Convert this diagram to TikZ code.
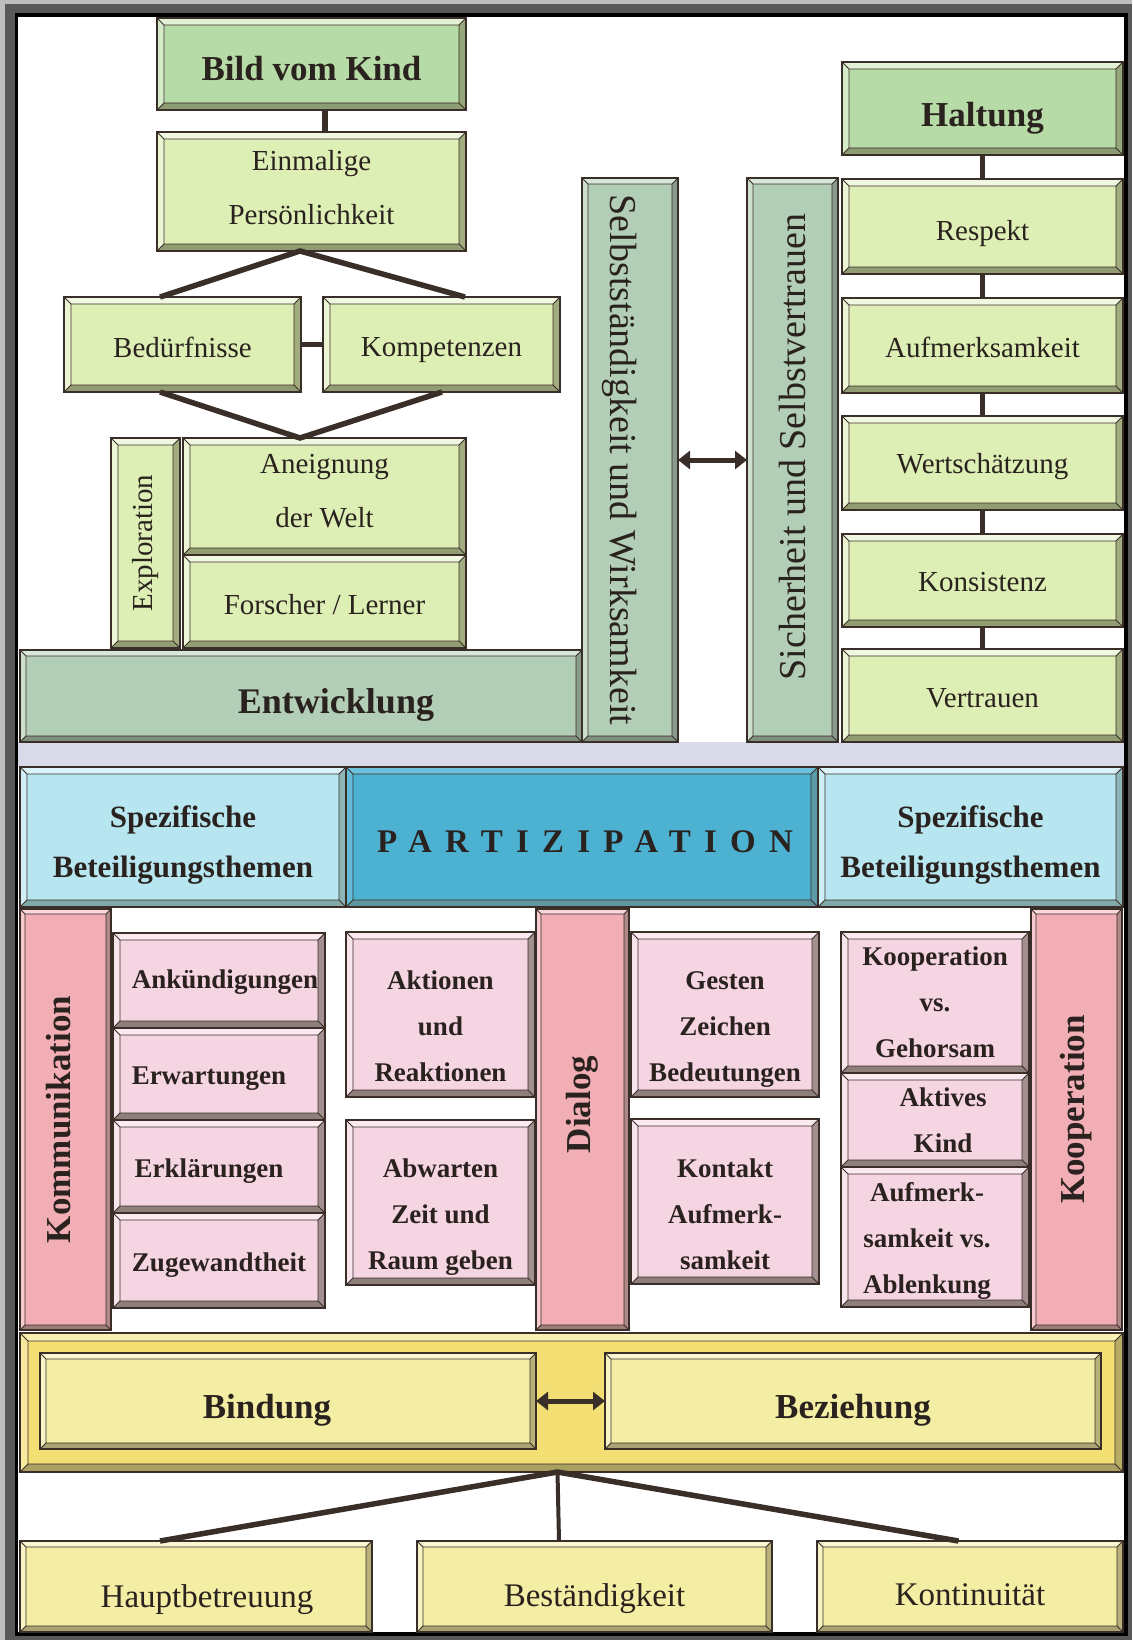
\documentclass[tikz,border=0pt]{standalone}
\usepackage{fontspec}
\setmainfont{Liberation Serif}
\usetikzlibrary{arrows.meta}
\definecolor{outl}{HTML}{3A2E28}
\definecolor{txt}{HTML}{2A221E}
\definecolor{fra}{HTML}{BDBDBD}
\definecolor{frb}{HTML}{595959}
\definecolor{lav}{HTML}{D8DAEA}
\definecolor{gL}{HTML}{DDEFB4}\definecolor{gLl}{HTML}{F1F8E2}\definecolor{gLd}{HTML}{929C72}
\definecolor{gM}{HTML}{B7DBA6}\definecolor{gMl}{HTML}{E2F1D6}\definecolor{gMd}{HTML}{8B9B72}
\definecolor{gG}{HTML}{B3CEB6}\definecolor{gGl}{HTML}{D9E7DA}\definecolor{gGd}{HTML}{7F8F80}
\definecolor{cL}{HTML}{B7E6F0}\definecolor{cLl}{HTML}{D9F3F8}\definecolor{cLd}{HTML}{80A9A8}
\definecolor{cD}{HTML}{4DB2D1}\definecolor{cDl}{HTML}{6CC0DA}\definecolor{cDd}{HTML}{5E97A0}
\definecolor{pC}{HTML}{F2AEB5}\definecolor{pCl}{HTML}{F8D6D9}\definecolor{pCd}{HTML}{9E7E7C}
\definecolor{pB}{HTML}{F5D5E2}\definecolor{pBl}{HTML}{FBEBF1}\definecolor{pBd}{HTML}{8E7E7C}
\definecolor{yB}{HTML}{F3DF74}\definecolor{yBl}{HTML}{F9EFB0}\definecolor{yBd}{HTML}{A9A062}
\definecolor{yL}{HTML}{F4EDA4}\definecolor{yLl}{HTML}{FAF6D2}\definecolor{yLd}{HTML}{A9A272}
\newcommand\fHd{\fontsize{35}{40}\selectfont\bfseries}
\newcommand\fEn{\fontsize{36}{40}\selectfont\bfseries}
\newcommand\fRg{\fontsize{29}{54}\selectfont}
\newcommand\fCol{\fontsize{38}{40}\selectfont}
\newcommand\fSp{\fontsize{31}{50}\selectfont\bfseries}
\newcommand\fPa{\fontsize{33}{40}\selectfont\bfseries\addfontfeature{LetterSpace=40}}
\newcommand\fPk{\fontsize{27}{46}\selectfont\bfseries}
\newcommand\fPc{\fontsize{35}{40}\selectfont\bfseries}
\newcommand\fBo{\fontsize{33}{40}\selectfont}
\tikzset{
  bev/.style n args={4}{rectangle, fill=#1, draw=outl, line width=1.2pt, inner sep=0pt, outer sep=0pt,
    path picture={
      \path (path picture bounding box.north west) coordinate (bNW)
            (path picture bounding box.north east) coordinate (bNE)
            (path picture bounding box.south west) coordinate (bSW)
            (path picture bounding box.south east) coordinate (bSE);
      \path ([shift={(#4,-#4)}]bNW) coordinate (iNW)
            ([shift={(-#4,-#4)}]bNE) coordinate (iNE)
            ([shift={(#4,#4)}]bSW) coordinate (iSW)
            ([shift={(-#4,#4)}]bSE) coordinate (iSE);
      \fill[#2] (bNW) -- (bNE) -- (iNE) -- (iNW) -- cycle;
      \fill[#2!70!#1] (bNW) -- (iNW) -- (iSW) -- (bSW) -- cycle;
      \fill[#3!80!#1] (bNE) -- (bSE) -- (iSE) -- (iNE) -- cycle;
      \fill[#3] (bSW) -- (iSW) -- (iSE) -- (bSE) -- cycle;
      \draw[outl, line width=0.9pt] (iNW) rectangle (iSE) (bNW) -- (iNW) (bNE) -- (iNE) (bSW) -- (iSW) (bSE) -- (iSE);
    }},
  gLbox/.style={bev={gL}{gLl}{gLd}{7pt}},
  gMbox/.style={bev={gM}{gMl}{gMd}{7pt}},
  gGbox/.style={bev={gG}{gGl}{gGd}{6pt}},
  cLbox/.style={bev={cL}{cLl}{cLd}{7pt}},
  cDbox/.style={bev={cD}{cDl}{cDd}{7pt}},
  pCbox/.style={bev={pC}{pCl}{pCd}{5pt}},
  pBbox/.style={bev={pB}{pBl}{pBd}{7pt}},
  yBbox/.style={bev={yB}{yBl}{yBd}{8pt}},
  yLbox/.style={bev={yL}{yLl}{yLd}{6pt}},
  lbl/.style={text=txt, align=center, inner sep=0pt},
  conn/.style={draw=outl, line width=5.5pt, line join=miter},
  connthin/.style={draw=outl, line width=4pt},
  dbl/.style={draw=outl, line width=5pt, {Triangle[length=12pt,width=18pt]}-{Triangle[length=12pt,width=18pt]}},
}
\newcommand\mybox[6]{%
  \pgfmathsetmacro\bxw{#5-#3}\pgfmathsetmacro\bxh{#6-#4}%
  \node[#2, minimum width=\bxw pt, minimum height=\bxh pt] (#1) at ({(#3+#5)/2},{(#4+#6)/2}) {};}
\begin{document}
\begin{tikzpicture}[x=1pt,y=-1pt]
\useasboundingbox (0,0) rectangle (1132,1640);
\fill[fra] (0,0) rectangle (1132,1640);
\fill[frb] (5,4) rectangle (1132,1640);
\fill[black] (15,13) rectangle (1128,1636);
\fill[white] (18,17) rectangle (1124,1632);
\fill[lav] (18,742) rectangle (1124,767);
% ---- upper left
\mybox{bild}{gMbox}{157}{18}{466}{110}
\mybox{einm}{gLbox}{157}{132}{466}{251}
\mybox{bedu}{gLbox}{64}{297}{301}{392}
\mybox{komp}{gLbox}{323}{297}{560}{392}
\mybox{expl}{gLbox}{111}{438}{180}{648}
\mybox{aneig}{gLbox}{183}{438}{466}{555}
\mybox{forsch}{gLbox}{183}{555}{466}{648}
\mybox{entw}{gGbox}{20}{650}{582}{742}
\mybox{selb}{gGbox}{582}{178}{678}{742}
\mybox{sich}{gGbox}{747}{178}{838}{742}
% ---- upper right
\mybox{halt}{gMbox}{842}{62}{1123}{155}
\mybox{resp}{gLbox}{842}{179}{1123}{274}
\mybox{aufm}{gLbox}{842}{298}{1123}{393}
\mybox{wert}{gLbox}{842}{416}{1123}{510}
\mybox{kons}{gLbox}{842}{534}{1123}{627}
\mybox{vert}{gLbox}{842}{649}{1123}{742}
% ---- Partizipation
\mybox{spezL}{cLbox}{20}{767}{346}{907}
\mybox{part}{cDbox}{346}{767}{818}{907}
\mybox{spezR}{cLbox}{818}{767}{1123}{907}
% ---- pink
\mybox{kommC}{pCbox}{20}{909}{111}{1330}
\mybox{dialC}{pCbox}{536}{909}{629}{1330}
\mybox{koopC}{pCbox}{1031}{909}{1122}{1330}
\mybox{ank}{pBbox}{113}{933}{325}{1028}
\mybox{erw}{pBbox}{113}{1028}{325}{1120}
\mybox{erkl}{pBbox}{113}{1120}{325}{1213}
\mybox{zug}{pBbox}{113}{1213}{325}{1308}
\mybox{akt}{pBbox}{346}{932}{535}{1097}
\mybox{abw}{pBbox}{346}{1120}{535}{1285}
\mybox{gest}{pBbox}{631}{932}{819}{1097}
\mybox{kont}{pBbox}{631}{1119}{819}{1284}
\mybox{koopvs}{pBbox}{841}{932}{1029}{1073}
\mybox{aktiv}{pBbox}{841}{1073}{1029}{1167}
\mybox{aufmvs}{pBbox}{841}{1167}{1029}{1307}
% ---- yellow
\mybox{band}{yBbox}{20}{1333}{1123}{1472}
\mybox{bind}{yLbox}{40}{1353}{536}{1449}
\mybox{bez}{yLbox}{605}{1353}{1101}{1449}
\mybox{haupt}{yLbox}{20}{1541}{372}{1632}
\mybox{best}{yLbox}{417}{1541}{772}{1632}
\mybox{kont2}{yLbox}{817}{1541}{1123}{1632}
% ---- connectors
\draw[conn] ([xshift=13.5pt]bild.south) -- ([xshift=13.5pt]einm.north);
\draw[conn] ([xshift=-22.5pt]bedu.north) -- ([xshift=-11.5pt]einm.south) -- ([xshift=23.5pt]komp.north);
\draw[conn] (bedu.east) -- (komp.west);
\draw[conn] ([xshift=-22.5pt]bedu.south) -- ([xshift=-24.5pt]aneig.north) -- ([xshift=0.5pt]komp.south);
\draw[conn] (halt.south) -- (resp.north);
\draw[conn] (resp.south) -- (aufm.north);
\draw[conn] (aufm.south) -- (wert.north);
\draw[conn] (wert.south) -- (kons.north);
\draw[conn] (kons.south) -- (vert.north);
\draw[dbl] (selb.east) -- (sich.west);
\draw[dbl] (bind.east) -- (bez.west);
\draw[conn] ([xshift=-36pt]haupt.north) -- ([xshift=-14pt]band.south) -- ([xshift=-11.5pt]kont2.north);
\draw[connthin] ([xshift=-14pt]band.south) -- ([xshift=-35.5pt]best.north);
% ---- texts
\node[lbl, font=\fHd] (bildT) at ([yshift=-5pt]bild) {Bild vom Kind};
\node[lbl, font=\fRg] (einmT) at ([yshift=4pt]einm) {Einmalige\\Persönlichkeit};
\node[lbl, font=\fRg] (beduT) at ([yshift=-3pt]bedu) {Bedürfnisse};
\node[lbl, font=\fRg] (kompT) at ([yshift=-6pt]komp) {Kompetenzen};
\node[lbl, font=\fRg, rotate=90] (explT) at (expl) {Exploration};
\node[lbl, font=\fRg] (aneigT) at ([yshift=5pt]aneig) {Aneignung\\der Welt};
\node[lbl, font=\fRg] (forschT) at ([yshift=-3pt]forsch) {Forscher / Lerner};
\node[lbl, font=\fEn] (entwT) at ([xshift=35pt,yshift=-9pt]entw) {Entwicklung};
\node[lbl, font=\fCol, rotate=-90] (selbT) at ([xshift=-10pt]selb) {Selbstständigkeit und Wirksamkeit};
\node[lbl, font=\fCol, rotate=90] (sichT) at ([yshift=13pt]sich) {Sicherheit und Selbstvertrauen};
\node[lbl, font=\fHd] (haltT) at ([yshift=-10pt]halt) {Haltung};
\node[lbl, font=\fRg] (respT) at ([yshift=-7pt]resp) {Respekt};
\node[lbl, font=\fRg] (aufmT) at ([yshift=-2pt]aufm) {Aufmerksamkeit};
\node[lbl, font=\fRg] (wertT) at ([yshift=-4pt]wert) {Wertschätzung};
\node[lbl, font=\fRg] (konsT) at ([yshift=-2pt]kons) {Konsistenz};
\node[lbl, font=\fRg] (vertT) at ([yshift=-3pt]vert) {Vertrauen};
\node[lbl, font=\fSp] (spezLT) at ([yshift=-8pt]spezL) {Spezifische\\Beteiligungsthemen};
\node[lbl, font=\fPa] (partT) at ([yshift=-5pt]part) {\kern6pt PARTIZIPATION};
\node[lbl, font=\fSp] (spezRT) at ([yshift=-8pt]spezR) {Spezifische\\Beteiligungsthemen};
\node[lbl, font=\fPc, rotate=90] (kommT) at ([xshift=-7pt]kommC) {Kommunikation};
\node[lbl, font=\fPc, rotate=90] (dialT) at ([yshift=15pt]dialC) {Dialog};
\node[lbl, font=\fPc, rotate=90] (koopT) at ([yshift=10pt]koopC) {Kooperation};
\node[lbl, font=\fPk] (ankT) at ([xshift=6pt,yshift=-2pt]ank) {Ankündigungen};
\node[lbl, font=\fPk] (erwT) at ([xshift=-10pt,yshift=-5pt]erw) {Erwartungen};
\node[lbl, font=\fPk] (erklT) at ([xshift=-10pt,yshift=-5pt]erkl) {Erklärungen};
\node[lbl, font=\fPk] (zugT) at ([yshift=-5pt]zug) {Zugewandtheit};
\node[lbl, font=\fPk] (aktT) at ([yshift=-12pt]akt) {Aktionen\\und\\Reaktionen};
\node[lbl, font=\fPk] (abwT) at ([yshift=-15pt]abw) {Abwarten\\Zeit und\\Raum geben};
\node[lbl, font=\fPk] (gestT) at ([yshift=-15pt]gest) {Gesten\\Zeichen\\Bedeutungen};
\node[lbl, font=\fPk] (kontT) at ([yshift=-13pt]kont) {Kontakt\\Aufmerk-\\samkeit};
\node[lbl, font=\fPk] (koopvsT) at (koopvs) {Kooperation\\vs.\\Gehorsam};
\node[lbl, font=\fPk] (aktivT) at ([xshift=8pt]aktiv) {Aktives\\Kind};
\node[lbl, font=\fPk] (aufmvsT) at ([xshift=-8pt,yshift=-4pt]aufmvs) {Aufmerk-\\samkeit vs.\\Ablenkung};
\node[lbl, font=\fPc] (bindT) at ([xshift=-21pt,yshift=-9pt]bind) {Bindung};
\node[lbl, font=\fPc] (bezT) at ([yshift=-9pt]bez) {Beziehung};
\node[lbl, font=\fBo] (hauptT) at ([xshift=11pt,yshift=-13pt]haupt) {Hauptbetreuung};
\node[lbl, font=\fBo] (bestT) at ([yshift=-12pt]best) {Beständigkeit};
\node[lbl, font=\fBo] (kont2T) at ([yshift=-8pt]kont2) {Kontinuität};
\end{tikzpicture}
\end{document}
